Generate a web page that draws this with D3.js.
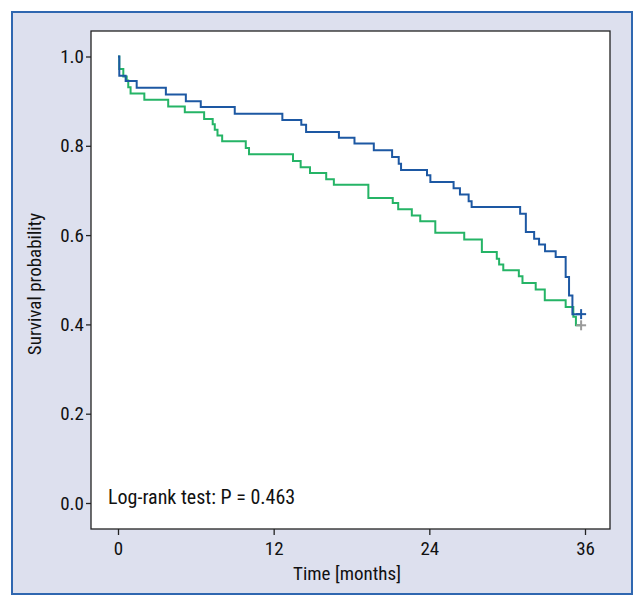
<!DOCTYPE html>
<html>
<head>
<meta charset="utf-8">
<script src="https://cdn.jsdelivr.net/npm/d3@7/dist/d3.min.js"></script>
<style>
  html, body { margin: 0; padding: 0; background: #ffffff; }
  svg { display: block; }
  text { font-family: "Liberation Sans Narrow", "Arial Narrow", "Roboto Condensed", "Liberation Sans", sans-serif; fill: #111; }
</style>
</head>
<body>
<div id="chart"></div>
<script>
// ---- data ----
const blueTimes = [0, 0.1, 0.59, 1.44, 3.69, 5.23, 6.38, 9.0, 12.67, 14.13, 14.5, 17.03, 18.23, 19.72, 21.13, 21.64, 21.82, 23.82, 24.08, 25.87, 26.36, 27.03, 27.26, 31.0, 31.44, 32.08, 32.46, 32.92, 33.74, 34.51, 34.77, 35.03];
const blueSurv  = [1.0, 0.957, 0.945, 0.930, 0.915, 0.900, 0.887, 0.872, 0.858, 0.847, 0.831, 0.818, 0.805, 0.790, 0.775, 0.760, 0.746, 0.734, 0.719, 0.705, 0.691, 0.676, 0.663, 0.648, 0.607, 0.592, 0.579, 0.564, 0.551, 0.506, 0.465, 0.423];
const greenTimes = [0, 0.1, 0.41, 0.67, 0.79, 0.97, 2.03, 3.87, 5.15, 6.64, 7.3, 7.46, 7.67, 8.03, 9.85, 10.1, 13.49, 14.08, 14.8, 16.05, 16.64, 19.3, 21.18, 21.6, 22.65, 23.3, 24.46, 26.69, 28.05, 29.2, 29.38, 29.7, 30.9, 31.18, 32.2, 32.9, 34.51, 35.1, 35.3];
const greenSurv  = [1.0, 0.972, 0.955, 0.946, 0.931, 0.917, 0.903, 0.888, 0.875, 0.860, 0.848, 0.836, 0.823, 0.810, 0.795, 0.781, 0.766, 0.752, 0.739, 0.725, 0.713, 0.683, 0.672, 0.658, 0.644, 0.631, 0.605, 0.590, 0.562, 0.547, 0.534, 0.521, 0.508, 0.493, 0.478, 0.454, 0.439, 0.417, 0.398];
const endTime = 35.7;           // last follow-up (censor mark)
const xTicks = [0, 12, 24, 36];
const yTicks = [0, 0.2, 0.4, 0.6, 0.8, 1.0];
const xLabel = "Time [months]";
const yLabel = "Survival probability";
const note = "Log-rank test: P = 0.463";

// ---- layout ----
const W = 643, H = 607;
const box = { left: 91, top: 31, right: 610, bottom: 529 };
const FS = 19;

const svg = d3.select("#chart").append("svg").attr("width", W).attr("height", H);

// outer frame
svg.append("rect").attr("x", 12).attr("y", 12).attr("width", 620).attr("height", 582)
  .attr("fill", "#dde0ee").attr("stroke", "#2f67b0").attr("stroke-width", 2);

// plot area
svg.append("rect").attr("x", box.left).attr("y", box.top)
  .attr("width", box.right - box.left).attr("height", box.bottom - box.top)
  .attr("fill", "#ffffff").attr("stroke", "#222").attr("stroke-width", 1.3);

const x = d3.scaleLinear().domain([0, 36]).range([118, 585]);
const y = d3.scaleLinear().domain([0, 1]).range([503, 56.5]);

// y axis
const yAxis = d3.axisLeft(y).tickValues(yTicks).tickFormat(d3.format(".1f")).tickSize(5).tickPadding(2);
const gy = svg.append("g").attr("transform", `translate(${box.left},0)`).call(yAxis);
gy.select(".domain").remove();
gy.selectAll("line").attr("stroke", "#222").attr("stroke-width", 1.3);
gy.selectAll("text").attr("font-size", FS).attr("fill", "#111");

// x axis
const xAxis = d3.axisBottom(x).tickValues(xTicks).tickFormat(d3.format("d")).tickSize(6).tickPadding(7);
const gx = svg.append("g").attr("transform", `translate(0,${box.bottom})`).call(xAxis);
gx.select(".domain").remove();
gx.selectAll("line").attr("stroke", "#222").attr("stroke-width", 1.3);
gx.selectAll("text").attr("font-size", FS).attr("fill", "#111");

// axis titles
svg.append("text").attr("x", 347).attr("y", 580).attr("text-anchor", "middle")
  .attr("font-size", FS).text(xLabel);
svg.append("text").attr("transform", "translate(41,284) rotate(-90)").attr("text-anchor", "middle")
  .attr("font-size", FS).text(yLabel);

// step curves
function stepData(times, surv) {
  const pts = times.map((t, i) => [t, surv[i]]);
  pts.push([endTime, surv[surv.length - 1]]);
  return pts;
}
const line = d3.line().x(d => x(d[0])).y(d => y(d[1])).curve(d3.curveStepAfter);

const series = [
  { times: greenTimes, surv: greenSurv, color: "#25b466", censor: "#9a9a9a" },
  { times: blueTimes, surv: blueSurv, color: "#1d58a3", censor: "#1d58a3" }
];
series.forEach(s => {
  svg.append("path").datum(stepData(s.times, s.surv)).attr("d", line)
    .attr("fill", "none").attr("stroke", s.color).attr("stroke-width", 2);
});
// censor marks
series.forEach(s => {
  const cx = x(endTime), cy = y(s.surv[s.surv.length - 1]);
  const g = svg.append("g").attr("stroke", s.censor).attr("stroke-width", 2);
  g.append("line").attr("x1", cx - 5).attr("x2", cx + 5).attr("y1", cy).attr("y2", cy);
  g.append("line").attr("x1", cx).attr("x2", cx).attr("y1", cy - 5).attr("y2", cy + 5);
});

// annotation
svg.append("text").attr("x", 108).attr("y", 504).attr("font-size", FS + 1).text(note);
</script>
</body>
</html>
